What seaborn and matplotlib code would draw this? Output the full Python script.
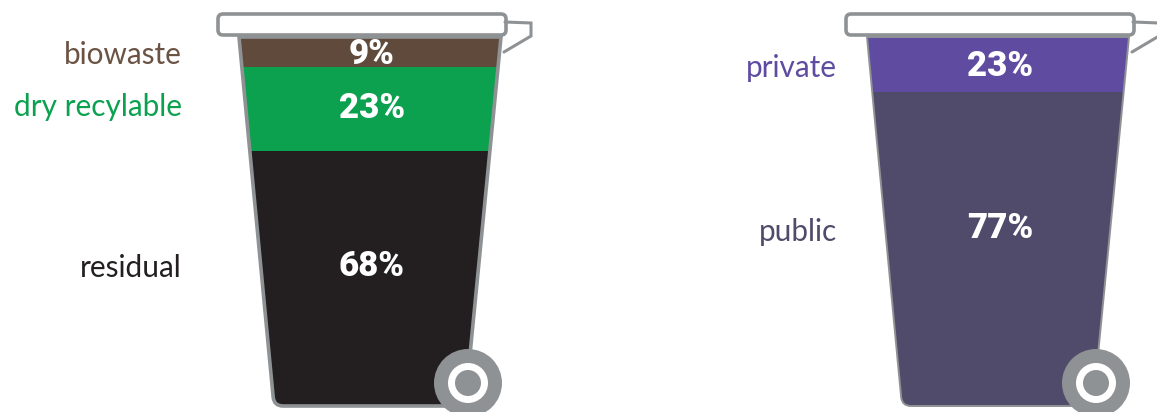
import matplotlib
matplotlib.use("Agg")
import matplotlib.pyplot as plt
import seaborn as sns
from matplotlib.patches import Circle, FancyBboxPatch, PathPatch
from matplotlib.path import Path

sns.set_theme(style="white")
plt.rcParams['font.family'] = ['Lato', 'DejaVu Sans']

# --- data ---
left_categories = ["biowaste", "dry recylable", "residual"]
left_labels = ["9%", "23%", "68%"]
left_band_heights = [8, 23, 69]          # drawn share of the bin height
left_colors = ["#5f4a3c", "#0ba14f", "#231f20"]
left_text_colors = ["#6b5344", "#0ba14f", "#231f20"]

right_categories = ["private", "public"]
right_labels = ["23%", "77%"]
right_band_heights = [15, 85]            # drawn share of the bin height
right_colors = ["#5f4ca0", "#514b6b"]
right_text_colors = ["#5f4ca0", "#514b6b"]

W, H = 1157, 412
GRAY = "#8f9294"
fig = plt.figure(figsize=(W / 100, H / 100), dpi=100, facecolor="white")

# overlay in pixel coordinates for the bin drawing and the text
ov = fig.add_axes([0, 0, 1, 1], zorder=5)
ov.set_xlim(0, W)
ov.set_ylim(H, 0)
ov.axis("off")
ov.patch.set_alpha(0)


def bin_path(tl, tr, br, bl, top, bottom, r=9):
    """Trapezoid body with rounded lower corners."""
    dl = (bl - tl) / (bottom - top)
    dr = (br - tr) / (bottom - top)
    verts = [(tl, top), (tr, top),
             (br - dr * r, bottom - r), (br, bottom), (br - r, bottom),
             (bl + r, bottom), (bl, bottom), (bl - dl * r, bottom - r),
             (tl, top)]
    codes = [Path.MOVETO, Path.LINETO,
             Path.LINETO, Path.CURVE3, Path.CURVE3,
             Path.LINETO, Path.CURVE3, Path.CURVE3,
             Path.CLOSEPOLY]
    return Path(verts, codes)


def draw_bin(x0, categories, labels, heights, colors, text_colors,
             label_ys, pct_ys, label_right, edge_lw):
    top, bottom = 37, 406
    tl, tr, br, bl = x0 + 239, x0 + 501, x0 + 465, x0 + 274
    ax = fig.add_axes([(tl - 5) / W, 1 - bottom / H, (tr - tl + 10) / W, (bottom - top) / H], zorder=2)
    path = bin_path(tl, tr, br, bl, top, bottom)
    clip = PathPatch(path, transform=ov.transData, facecolor="none")
    cum = 0
    for cat, h, c in zip(categories, heights, colors):
        sns.barplot(x=[cat], y=[h], bottom=cum, color=c, saturation=1,
                    width=1, linewidth=0, ax=ax)
        cum += h
    # all bands share one slot across the bin
    for p in ax.patches:
        p.set_x(0)
        p.set_width(1)
        p.set_clip_path(clip)
    ax.set_xlim(0, 1)
    ax.set_ylim(100, 0)
    ax.axis("off")

    # outline
    ov.add_patch(PathPatch(path, fill=False, edgecolor=GRAY, lw=edge_lw, joinstyle="round"))
    # handle
    ov.plot([x0 + 505, x0 + 531, x0 + 531, x0 + 504],
            [22, 23, 36, 52], color=GRAY, lw=2.2, solid_joinstyle="miter")
    # lid
    ov.add_patch(FancyBboxPatch((x0 + 218, 14), 288, 21,
                                boxstyle="round,pad=0,rounding_size=5",
                                fc="white", ec=GRAY, lw=2.6, mutation_aspect=1))
    # wheel
    cx, cy = x0 + 468, 383
    ov.add_patch(Circle((cx, cy), 34, fc=GRAY, ec="none", clip_on=False))
    ov.add_patch(Circle((cx, cy), 20, fc="white", ec="none"))
    ov.add_patch(Circle((cx, cy), 13, fc=GRAY, ec="none"))

    for cat, lab, tc, ly, py in zip(categories, labels, text_colors, label_ys, pct_ys):
        ov.text(label_right, ly, cat, color=tc, ha="right", va="center", fontsize=21.4)
        ov.text(x0 + 372, py, lab, color="white", ha="center", va="center",
                fontsize=25, fontweight="black",
                family=["Roboto", "DejaVu Sans"])


draw_bin(0, left_categories, left_labels, left_band_heights, left_colors, left_text_colors,
         [55, 107, 268], [54, 108, 266], 182, 2.6)
draw_bin(628, right_categories, right_labels, right_band_heights, right_colors, right_text_colors,
         [68, 232], [66, 228], 837, 1.4)

fig.savefig("out.png", dpi=100, facecolor="white")
